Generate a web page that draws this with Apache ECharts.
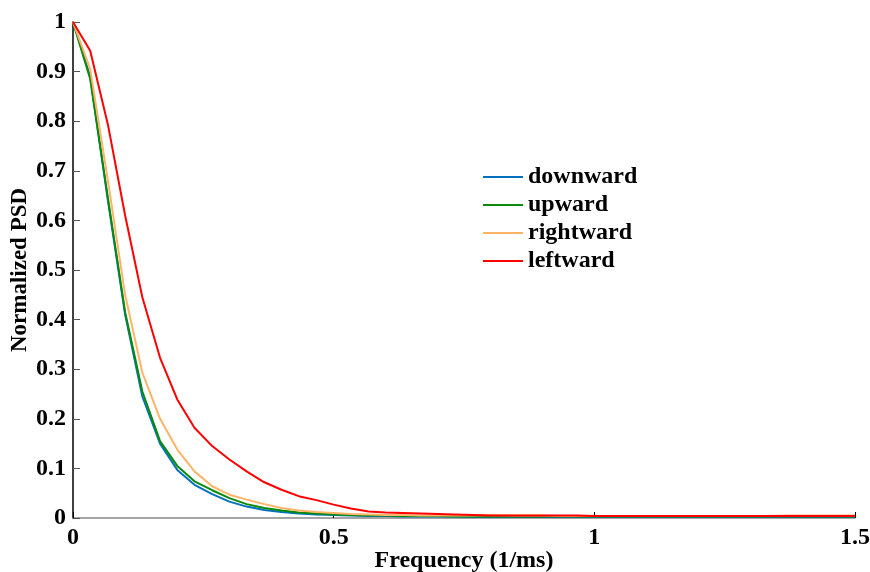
<!DOCTYPE html>
<html>
<head>
    <meta charset="utf-8">
    <title>Normalized PSD</title>
    <script src="https://cdn.jsdelivr.net/npm/echarts@6/dist/echarts.min.js"></script>
</head>
<body style="margin:0;padding:0;background:#fff;">
<div id="main" style="margin:0px;padding:0px;width:870px;height:572px;"></div>
<script type="text/javascript">
    // frequency grid (1/ms)
    var freq = [0, 0.033, 0.067, 0.1, 0.133, 0.167, 0.2, 0.233, 0.267, 0.3,
        0.333, 0.367, 0.4, 0.433, 0.467, 0.5, 0.533, 0.567, 0.6, 0.633,
        0.667, 0.7, 0.733, 0.767, 0.8, 0.833, 0.867, 0.9, 0.933, 0.967,
        1, 1.033, 1.067, 1.1, 1.133, 1.167, 1.2, 1.233, 1.267, 1.3,
        1.333, 1.367, 1.4, 1.433, 1.467, 1.5];

    var downward = [1, 0.89, 0.64, 0.41, 0.245, 0.15, 0.097, 0.067, 0.048, 0.033,
        0.023, 0.016, 0.012, 0.009, 0.007, 0.006, 0.005, 0.004, 0.004, 0.003,
        0.003, 0.003, 0.003, 0.002, 0.002, 0.002, 0.002, 0.002, 0.002, 0.002,
        0.002, 0.002, 0.002, 0.002, 0.002, 0.002, 0.002, 0.002, 0.002, 0.002,
        0.002, 0.002, 0.002, 0.002, 0.002, 0.002];

    var upward = [1, 0.885, 0.645, 0.415, 0.255, 0.155, 0.105, 0.074, 0.056, 0.04,
        0.028, 0.02, 0.015, 0.011, 0.009, 0.007, 0.006, 0.005, 0.005, 0.004,
        0.004, 0.004, 0.003, 0.003, 0.003, 0.003, 0.003, 0.003, 0.003, 0.003,
        0.003, 0.003, 0.003, 0.003, 0.003, 0.003, 0.003, 0.003, 0.003, 0.003,
        0.003, 0.003, 0.003, 0.003, 0.003, 0.003];

    var rightward = [1, 0.905, 0.68, 0.45, 0.293, 0.2, 0.138, 0.094, 0.064, 0.047,
        0.037, 0.028, 0.02, 0.015, 0.012, 0.01, 0.008, 0.007, 0.006, 0.006,
        0.005, 0.005, 0.005, 0.005, 0.006, 0.005, 0.005, 0.005, 0.004, 0.004,
        0.004, 0.004, 0.004, 0.004, 0.004, 0.004, 0.004, 0.004, 0.004, 0.004,
        0.004, 0.005, 0.005, 0.005, 0.005, 0.005];

    var leftward = [1, 0.942, 0.793, 0.61, 0.445, 0.323, 0.239, 0.182, 0.145, 0.118,
        0.094, 0.072, 0.057, 0.044, 0.036, 0.027, 0.019, 0.013, 0.011, 0.01,
        0.009, 0.008, 0.007, 0.006, 0.005, 0.005, 0.005, 0.005, 0.005, 0.005,
        0.004, 0.004, 0.004, 0.004, 0.004, 0.004, 0.004, 0.004, 0.004, 0.004,
        0.004, 0.004, 0.004, 0.004, 0.004, 0.004];

    var seriesNames = ['downward', 'upward', 'rightward', 'leftward'];
    var seriesColors = ['#0072BD', '#0A8A0A', '#FFB468', '#FF0000'];
    var seriesValues = [downward, upward, rightward, leftward];

    var fontFam = '"Liberation Serif", "Times New Roman", serif';

    function pairs(ys) {
        var out = [];
        for (var i = 0; i < freq.length; i++) out.push([freq[i], ys[i]]);
        return out;
    }

    var myChart = echarts.init(document.getElementById('main'));

    var series = [];
    for (var i = 0; i < seriesNames.length; i++) {
        series.push({
            name: seriesNames[i],
            type: 'line',
            data: pairs(seriesValues[i]),
            showSymbol: false,
            lineStyle: {color: seriesColors[i], width: 2},
            itemStyle: {color: seriesColors[i]},
            z: 2 + i
        });
    }

    var option = {
        animation: false,
        backgroundColor: '#ffffff',
        grid: {left: 73, right: 15, top: 22, bottom: 54, containLabel: false, outerBoundsMode: 'none'},
        legend: {
            data: seriesNames,
            orient: 'vertical',
            left: 483,
            top: 163,
            padding: 0,
            icon: 'rect',
            itemWidth: 40,
            itemHeight: 2,
            itemGap: 0,
            textStyle: {fontFamily: fontFam, fontWeight: 'bold', fontSize: 24, color: '#000', lineHeight: 28, padding: [0, 0, 0, 0]}
        },
        xAxis: {
            type: 'value',
            min: 0,
            max: 1.5,
            interval: 0.5,
            name: 'Frequency (1/ms)',
            nameLocation: 'middle',
            nameGap: 31,
            nameMoveOverlap: false,
            nameTextStyle: {fontFamily: fontFam, fontWeight: 'bold', fontSize: 24, color: '#000'},
            axisLine: {onZero: false, lineStyle: {color: '#888', width: 1.5}},
            axisTick: {inside: true, length: 6, lineStyle: {color: '#000'}},
            axisLabel: {fontFamily: fontFam, fontWeight: 'bold', fontSize: 24, color: '#000', margin: 8,
                formatter: function (v) { return String(v); }},
            splitLine: {show: false}
        },
        yAxis: {
            type: 'value',
            min: 0,
            max: 1,
            interval: 0.1,
            name: 'Normalized PSD',
            nameLocation: 'middle',
            nameGap: 41,
            nameMoveOverlap: false,
            nameTextStyle: {fontFamily: fontFam, fontWeight: 'bold', fontSize: 23, color: '#000'},
            axisLine: {show: true, lineStyle: {color: '#000', width: 1.5}},
            axisTick: {show: true, inside: true, length: 7, lineStyle: {color: '#555'}},
            axisLabel: {fontFamily: fontFam, fontWeight: 'bold', fontSize: 24, color: '#000', margin: 7,
                formatter: function (v) { return String(Math.round(v * 10) / 10); }},
            splitLine: {show: false}
        },
        series: series
    };

    myChart.setOption(option);
</script>
</body>
</html>
